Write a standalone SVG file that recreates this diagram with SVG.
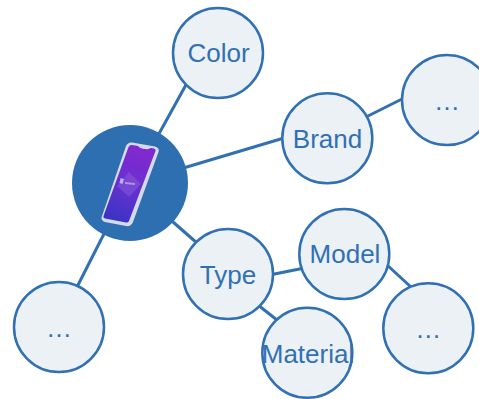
<svg xmlns="http://www.w3.org/2000/svg" width="479" height="399" viewBox="0 0 479 399">
<style>
.n{fill:#ecf1f6;stroke:#3070b3;stroke-width:2.500}
.t{font-family:"Liberation Sans",Arial,sans-serif;font-size:26px;fill:#3070b3;text-anchor:middle}
#connectors line{stroke:#3070b3;stroke-width:3}
</style>
<defs>
<linearGradient id="s" x1="0.65" y1="0" x2="0.35" y2="1"><stop offset="0" stop-color="#8328cf"/><stop offset="0.5" stop-color="#6a2fd0"/><stop offset="1" stop-color="#3d32c4"/></linearGradient>
<filter id="b" x="-10%" y="-10%" width="120%" height="120%"><feGaussianBlur stdDeviation="0.6"/></filter>
</defs>
<g id="connectors">
<line x1="187" y1="83" x2="150" y2="150"/>
<line x1="170" y1="172" x2="284" y2="138"/>
<line x1="366" y1="117" x2="404" y2="98"/>
<line x1="165" y1="215" x2="197" y2="243"/>
<line x1="110" y1="222" x2="76" y2="289"/>
<line x1="272" y1="274.500" x2="302" y2="268.500"/>
<line x1="258" y1="305" x2="277" y2="320"/>
<line x1="386" y1="264" x2="412" y2="288"/>
</g>
<g id="hub">
<circle cx="130" cy="183" r="58" fill="#2e6fb1"/>
<g filter="url(#b)">
<path d="M132 142.500 L155 146.500 Q160 148 158.500 152 L133 222 Q131 227 126 226 L105 222 Q100 220 102 216 L126 146 Q128 142 132 142.500Z" fill="#d5dbe6"/>
<path d="M132 145 L138 146 Q140 148.500 145 149 Q149 149.500 151 148 L154 148.500 Q156 149 155.500 151 L129 221 Q128 223 126 222.500 L105 218.500 Q103 218 103.500 216 L128.500 147 Q129.500 144.800 132 145Z" fill="url(#s)"/>
<path d="M129 172 L141 184 L129 197 L117 186Z" fill="#9a7fe0" opacity="0.3"/>
<path d="M120.500 178 L124 179 L122.500 184 L119.500 183Z" fill="#cfc8f0" opacity="0.8"/>
<path d="M125 183 L135 184" stroke="#cfc8f0" stroke-width="2" opacity="0.6" fill="none"/>
</g>
</g>
<g id="color"><circle class="n" cx="218" cy="53" r="45"/><text class="t" x="218.500" y="62">Color</text></g>
<g id="brand"><circle class="n" cx="327.300" cy="138.300" r="45"/><text class="t" x="327.500" y="147.500">Brand</text></g>
<g id="more1"><circle class="n" cx="447" cy="100" r="45"/><text class="t" x="447" y="110">…</text></g>
<g id="type"><circle class="n" cx="228" cy="274" r="45"/><text class="t" x="228" y="283.500">Type</text></g>
<g id="model"><circle class="n" cx="344.300" cy="254" r="45"/><text class="t" x="345" y="263">Model</text></g>
<g id="material"><circle class="n" cx="307.300" cy="352.700" r="45"/><text class="t" x="308" y="362.500">Material</text></g>
<g id="more2"><circle class="n" cx="428.300" cy="328.300" r="45"/><text class="t" x="428.300" y="338">…</text></g>
<g id="more3"><circle class="n" cx="59" cy="327" r="45"/><text class="t" x="59" y="337">…</text></g>
</svg>
